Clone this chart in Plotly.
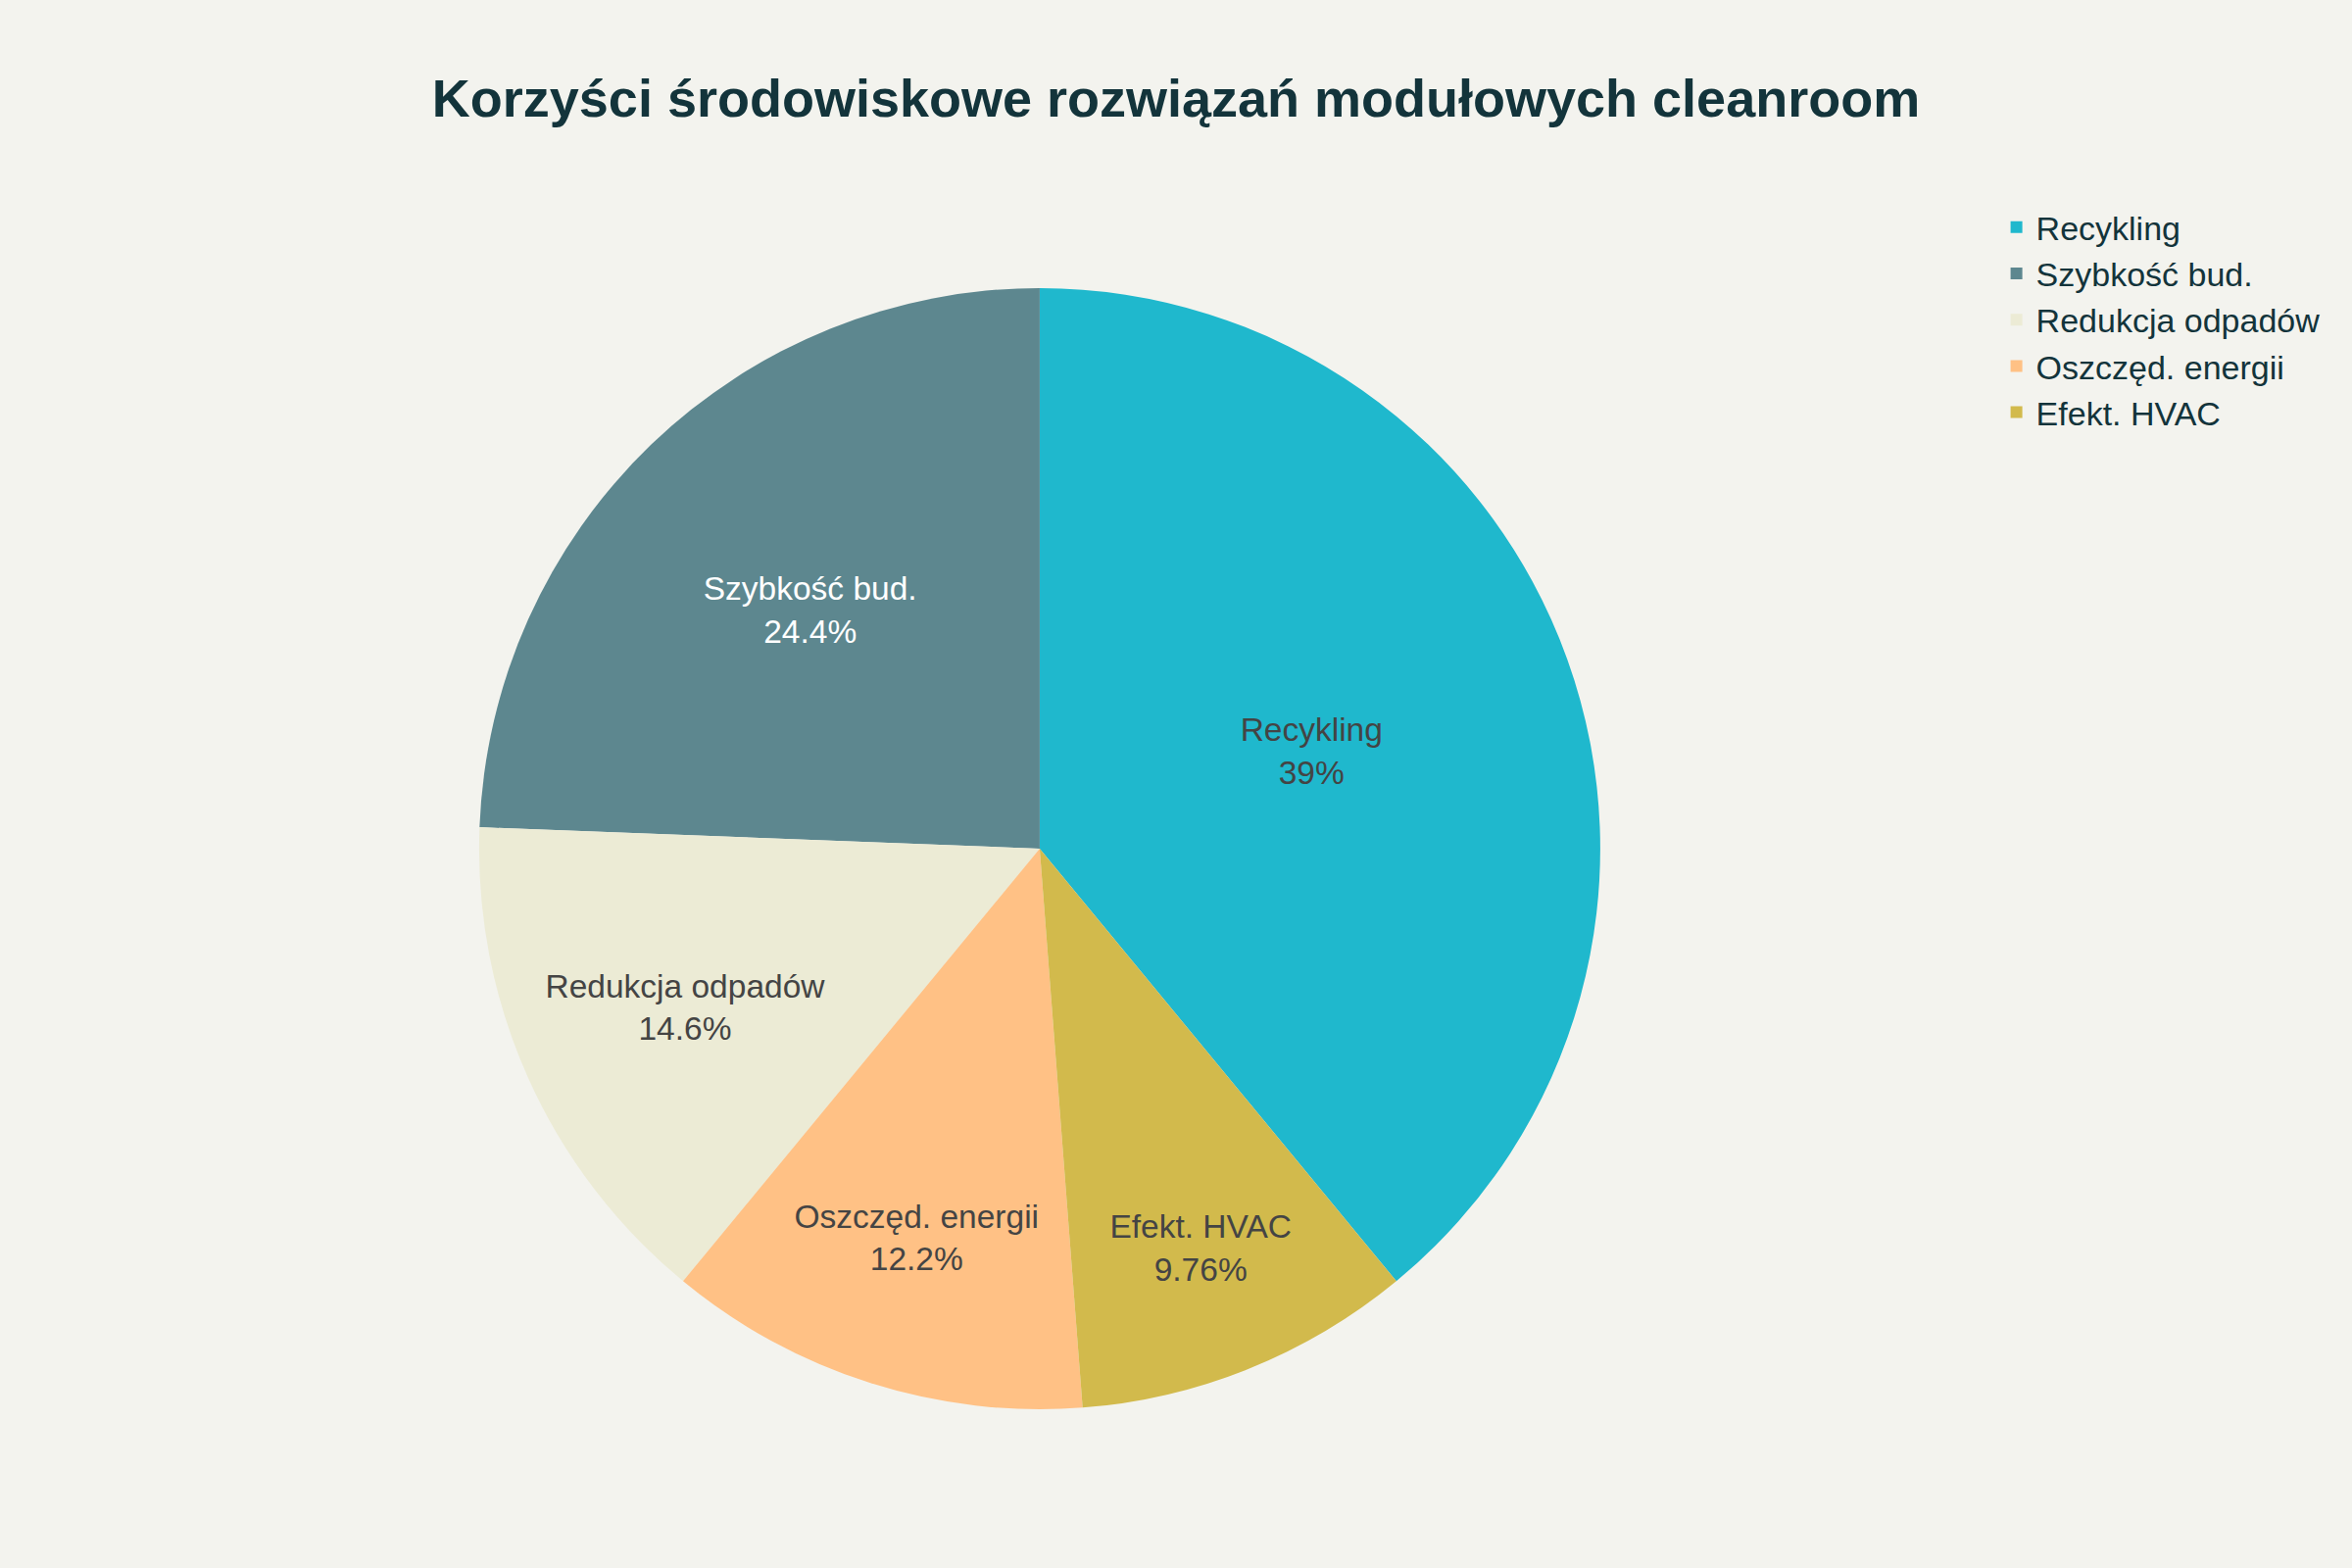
import plotly.graph_objects as go

labels = ["Recykling", "Szybkość bud.", "Redukcja odpadów", "Oszczęd. energii", "Efekt. HVAC"]
values = [40, 25, 15, 12.5, 10]
colors = ["#1FB8CD", "#5D878F", "#ECEBD5", "#FFC185", "#D2BA4C"]
title_text = "Korzyści środowiskowe rozwiązań modułowych cleanroom"

S = 2  # scale factor for the 2400x1600 canvas

fig = go.Figure(
    go.Pie(
        labels=labels,
        values=values,
        marker=dict(colors=colors),
        textinfo="label+percent",
        textposition="inside",
        insidetextorientation="horizontal",
        sort=False,
        direction="counterclockwise",
        rotation=0,
        textfont=dict(size=16.75 * S),
        domain=dict(x=[0.2037, 0.6804], y=[0, 1]),
        showlegend=True,
    )
)

fig.update_layout(
    width=2400,
    height=1600,
    paper_bgcolor="#F3F3EE",
    plot_bgcolor="#F3F3EE",
    font=dict(family="Liberation Sans, Arial, sans-serif", size=15 * S, color="#13343B"),
    title=dict(
        text="<b>" + title_text + "</b>",
        x=0.5,
        xanchor="center",
        y=0.9375,
        yanchor="middle",
        font=dict(size=27 * S, color="#13343B"),
    ),
    legend=dict(
        x=0.849,
        xanchor="left",
        yref="container",
        y=0.873,
        yanchor="top",
        font=dict(size=17 * S, color="#13343B"),
        bgcolor="rgba(0,0,0,0)",
    ),
    margin=dict(l=0, r=0, t=294, b=162, autoexpand=False),
)

fig.write_html(
    "out.html",
    config={"displayModeBar": False},
    post_script="document.body.style.margin='0';",
)
